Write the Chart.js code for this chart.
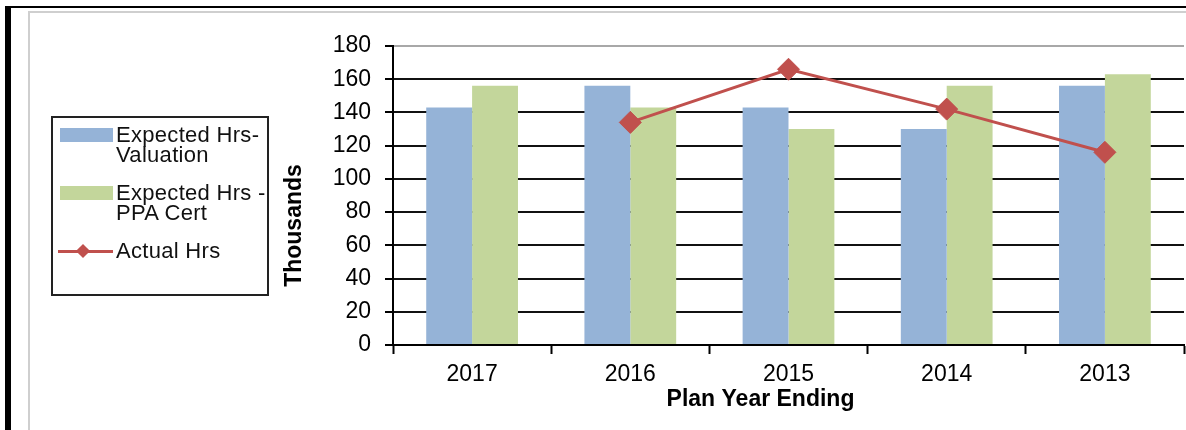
<!DOCTYPE html>
<html>
<head>
    <title>Plan Year Hours</title>
    <script src="https://cdn.jsdelivr.net/npm/chart.js"></script>
    <style>
        body {
            margin: 0;
            width: 1186px;
            height: 430px;
            overflow: hidden;
            position: relative;
            background: #fff;
            font-family: "Liberation Sans", Arial, sans-serif;
        }
        .frame-dark {
            position: absolute; left: 5px; top: 6px; right: -20px; bottom: -20px;
            border-left: 6px solid #000; border-top: 2px solid #000;
        }
        .frame-light {
            position: absolute; left: 28px; top: 11px; right: -20px; bottom: -20px;
            border-left: 2px solid #cfcfcf; border-top: 2px solid #cfcfcf;
        }
        canvas { position: absolute; left: 0; top: 0; }
        #legend {
            position: absolute; left: 51px; top: 116px;
            width: 214px; height: 169px;
            border: 2px solid #222;
            padding-top: 7px;
            box-sizing: content-box;
        }
        .item { position: relative; margin-bottom: 18px; padding-left: 63px; font-size: 22px; line-height: 20px; letter-spacing: 0.3px; color: #111; white-space: nowrap; }
        .swatch { position: absolute; left: 7px; top: 3px; width: 53px; height: 14px; }
        .lineKey { position: absolute; left: 5px; top: 9px; width: 55px; height: 3px; }
        .diamond { position: absolute; left: 25px; top: 5px; width: 10px; height: 10px; transform: rotate(45deg); }
    </style>
</head>
<body>
    <div class="frame-dark"></div>
    <div class="frame-light"></div>
    <canvas id="hoursChart" width="1196" height="430"></canvas>
    <div id="legend"></div>
    <script>
        const categories = ['2017', '2016', '2015', '2014', '2013'];
        const valuationHrs = [143, 156, 143, 130, 156];
        const ppaCertHrs = [156, 143, 130, 156, 163];
        const actualHrs = [null, 134, 166, 142, 116];
        const seriesNames = [['Expected Hrs-', 'Valuation'], ['Expected Hrs -', 'PPA Cert'], ['Actual Hrs']];
        const yMin = 0, yMax = 180, yStep = 20;
        const xTitle = 'Plan Year Ending';
        const yTitle = 'Thousands';

        const blue = '#95B3D7';
        const green = '#C3D69B';
        const red = '#C0504D';
        const fontFamily = '"Liberation Sans", Arial, sans-serif';

        // axis titles are not centred on the plot in the original, so draw them by hand
        const axisTitles = {
            id: 'axisTitles',
            afterDraw(chart) {
                const { ctx, chartArea } = chart;
                ctx.save();
                ctx.fillStyle = '#000';
                ctx.font = 'bold 23px ' + fontFamily;
                ctx.textAlign = 'center';
                ctx.textBaseline = 'alphabetic';
                ctx.fillText(xTitle, (chartArea.left + chartArea.right) / 2 - 28, chartArea.bottom + 61);
                ctx.translate(chartArea.left - 92, (chartArea.top + chartArea.bottom) / 2 + 30);
                ctx.rotate(-Math.PI / 2);
                ctx.fillText(yTitle, 0, 0);
                ctx.restore();
            }
        };

        const ctx = document.getElementById('hoursChart').getContext('2d');
        const hoursChart = new Chart(ctx, {
            type: 'bar',
            data: {
                labels: categories,
                datasets: [{
                    label: seriesNames[0].join(' '),
                    data: valuationHrs,
                    backgroundColor: blue,
                    barPercentage: 1,
                    categoryPercentage: 0.58,
                    order: 1
                }, {
                    label: seriesNames[1].join(' '),
                    data: ppaCertHrs,
                    backgroundColor: green,
                    barPercentage: 1,
                    categoryPercentage: 0.58,
                    order: 1
                }, {
                    type: 'line',
                    label: seriesNames[2].join(' '),
                    data: actualHrs,
                    borderColor: red,
                    borderWidth: 3,
                    pointStyle: 'rectRot',
                    pointRadius: 11,
                    pointBackgroundColor: red,
                    pointBorderColor: red,
                    pointBorderWidth: 1,
                    tension: 0,
                    order: 0
                }]
            },
            options: {
                responsive: false,
                animation: false,
                layout: {
                    padding: { left: 270, top: 46, right: 8, bottom: 45 }
                },
                plugins: {
                    legend: { display: false },
                    tooltip: { enabled: false }
                },
                scales: {
                    x: {
                        offset: true,
                        grid: {
                            offset: true,
                            drawOnChartArea: false,
                            tickLength: 9,
                            tickColor: '#000',
                            tickWidth: 2
                        },
                        border: { color: '#000', width: 2 },
                        ticks: {
                            color: '#000',
                            padding: 7,
                            font: { size: 23, family: fontFamily }
                        },
                        afterFit: scale => { scale.height = 40; }
                    },
                    y: {
                        min: yMin,
                        max: yMax,
                        grid: {
                            color: c => (c.tick && c.tick.value === yMax) ? '#a8a8a8' : '#111',
                            lineWidth: 2,
                            tickLength: 8,
                            tickColor: '#000',
                            tickWidth: 2
                        },
                        border: { color: '#000', width: 2 },
                        ticks: {
                            stepSize: yStep,
                            color: '#000',
                            padding: 14,
                            font: { size: 23, family: fontFamily }
                        },
                        afterFit: scale => { scale.width = 123; }
                    }
                }
            },
            plugins: [axisTitles]
        });

        // boxed legend on the left, built from the chart's datasets
        const legend = document.getElementById('legend');
        hoursChart.data.datasets.forEach((ds, i) => {
            const item = document.createElement('div');
            item.className = 'item';
            if (ds.type === 'line') {
                item.innerHTML = '<div class="lineKey" style="background:' + ds.borderColor + '"></div>' +
                    '<div class="diamond" style="background:' + ds.borderColor + '"></div>';
            } else {
                item.innerHTML = '<div class="swatch" style="background:' + ds.backgroundColor + '"></div>';
            }
            seriesNames[i].forEach(line => {
                const row = document.createElement('div');
                row.textContent = line;
                item.appendChild(row);
            });
            legend.appendChild(item);
        });
    </script>
</body>
</html>
